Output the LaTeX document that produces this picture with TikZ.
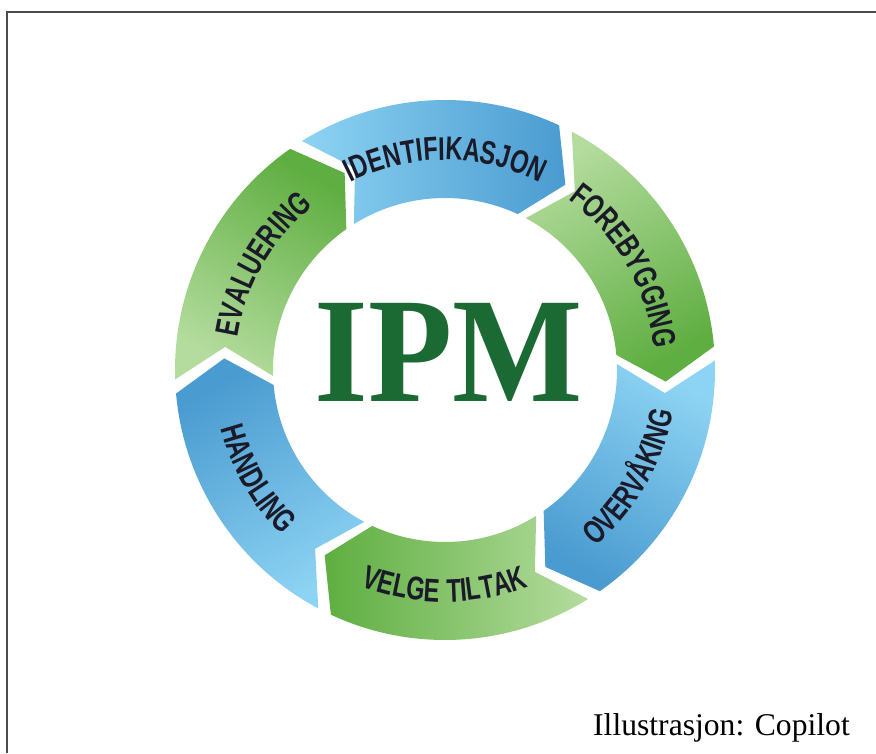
\documentclass[tikz,border=0pt]{standalone}
\usepackage{fontspec}
\setmainfont{Liberation Serif}
\newfontfamily\labelfont[FakeStretch=0.72, LetterSpace=4]{Liberation Sans}
\newfontfamily\ipmfont[FakeStretch=0.92]{Liberation Serif}
\usetikzlibrary{decorations.text}
\definecolor{bluelight}{HTML}{8DD3F3}
\definecolor{bluedark}{HTML}{4A9BD0}
\definecolor{greenlight}{HTML}{B4DC9E}
\definecolor{greendark}{HTML}{5FAE41}
\definecolor{ipmgreen}{HTML}{1B6A34}
\definecolor{labelcol}{HTML}{1A1A28}
\tikzset{
  seglabel/.style={decorate, decoration={text along path, text align=center,
      text={|\labelfont\bfseries\fontsize{28}{30}\selectfont\color{labelcol}|#1}}},
  ipm/.style={font=\ipmfont\bfseries\fontsize{128}{130}\selectfont, text=ipmgreen, inner sep=0pt},
  credit/.style={font=\fontsize{27}{30}\selectfont, inner sep=0pt},
  frame/.style={draw=black!70, line width=1.2pt}
}
\begin{document}
\begin{tikzpicture}[x=0.03cm, y=0.03cm]
  \useasboundingbox (-445,-383) rectangle (431,370);
  \draw[frame] (431,358) -- (-438,358) -- (-438,-383);
  % ring of arrows
  \foreach \c/\lt/\dk [evaluate=\c as \sa using \c-180] in
      {90/bluelight/bluedark, 30/greenlight/greendark, -30/bluelight/bluedark,
       -90/greenlight/greendark, -150/bluelight/bluedark, 150/greenlight/greendark}
    \path[bottom color=\lt, top color=\dk, shading angle=\sa]
      ({\c+32}:270) arc[start angle=\c+32, end angle=\c-25, radius=270]
      -- ({\c-33}:221) -- ({\c-25}:172)
      arc[start angle=\c-25, end angle=\c+32, radius=172]
      -- ({\c+24}:221) -- cycle;
  \path[seglabel=IDENTIFIKASJON] (140:210) arc[start angle=140, end angle=40, radius=210];
  \path[seglabel=FOREBYGGING] (80:210) arc[start angle=80, end angle=-20, radius=210];
  \path[seglabel=EVALUERING] (200:210) arc[start angle=200, end angle=100, radius=210];
  \path[seglabel=OVERVÅKING] (-80:232) arc[start angle=-80, end angle=20, radius=232];
  \path[seglabel=VELGE TILTAK] (-140:232) arc[start angle=-140, end angle=-40, radius=232];
  \path[seglabel=HANDLING] (-200:232) arc[start angle=-200, end angle=-100, radius=232];
  \node[ipm] (ipm) at (4,18) {IPM};
  \node[credit, anchor=base east] (copilot) at (405,-365) {Illustrasjon: Copilot};
\end{tikzpicture}
\end{document}
